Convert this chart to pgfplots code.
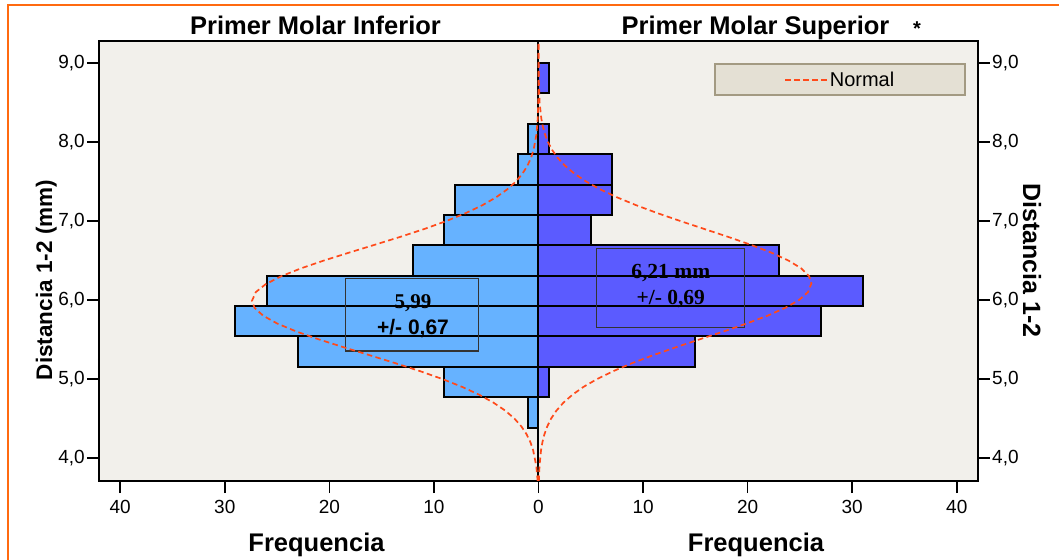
\documentclass[border=0pt]{standalone}
\usepackage{fontspec}
\setmainfont{Liberation Sans}
\newfontfamily\serifb{Liberation Serif}
\usepackage{pgfplots}
\pgfplotsset{compat=1.18}
\definecolor{plotbg}{HTML}{F2F0EB}
\definecolor{leftbar}{HTML}{66B2FF}
\definecolor{rightbar}{HTML}{5B5BFF}
\definecolor{curvered}{HTML}{FF4A1A}
\definecolor{legfill}{HTML}{E4E0D4}
\definecolor{legdraw}{HTML}{A39A82}
\definecolor{frameorange}{HTML}{FF6A10}
\begin{document}
\begin{tikzpicture}
\useasboundingbox (0bp,0bp) rectangle (1059bp,560bp);
\draw[frameorange, line width=2.5bp] (8bp,0bp) -- (8bp,555bp) -- (1059bp,555bp);
% right-hand y axis (ticks and labels only)
\begin{axis}[
  at={(99.3bp,79bp)}, anchor=south west,
  scale only axis, width=878.4bp, height=440bp,
  xmin=-42, xmax=42, ymin=3.709, ymax=9.278,
  axis x line=none, axis y line*=right,
  axis line style={line width=2bp, -},
  ytick={4,5,6,7,8,9},
  yticklabels={{4,0},{5,0},{6,0},{7,0},{8,0},{9,0}},
  tick align=outside, major tick length=12bp,
  tick style={line width=1.6bp, black},
  yticklabel style={font=\fontsize{19bp}{21bp}\selectfont, xshift=-1bp},
]
\end{axis}
\begin{axis}[
  at={(99.3bp,79bp)}, anchor=south west,
  scale only axis, width=878.4bp, height=440bp,
  xmin=-42, xmax=42, ymin=3.709, ymax=9.278,
  axis background/.style={fill=plotbg},
  axis line style={line width=2bp},
  xtick={-40,-30,-20,-10,0,10,20,30,40},
  xticklabels={40,30,20,10,0,10,20,30,40},
  ytick={4,5,6,7,8,9},
  yticklabels={{4,0},{5,0},{6,0},{7,0},{8,0},{9,0}},
  xtick pos=bottom, ytick pos=left,
  tick align=outside, major tick length=12bp,
  tick style={line width=1.6bp, black},
  ticklabel style={font=\fontsize{19bp}{21bp}\selectfont},
  xticklabel style={yshift=-4bp},
  yticklabel style={xshift=1bp},
  legend style={at={(0.7001,0.9493)}, anchor=north west, fill=legfill,
    draw=legdraw, line width=1.8bp, inner xsep=69bp, inner ysep=5.5bp,
    font=\fontsize{20bp}{22bp}\selectfont},
  legend image code/.code={\draw[#1] (0bp,0bp) -- (42bp,0bp);},
]
% left histogram (Primer Molar Inferior), bin edges 4 + k*5/13
\addplot[xbar interval, fill=leftbar, draw=black, line width=2bp, forget plot]
coordinates {
(-1,4.3846) (-9,4.7692) (-23,5.1538) (-29,5.5385) (-26,5.9231)
(-12,6.3077) (-9,6.6923) (-8,7.0769) (-2,7.4615) (-1,7.8462) (0,8.2308)
};
% right histogram (Primer Molar Superior)
\addplot[xbar interval, fill=rightbar, draw=black, line width=2bp, forget plot]
coordinates {
(1,4.7692) (15,5.1538) (27,5.5385) (31,5.9231) (23,6.3077)
(5,6.6923) (7,7.0769) (7,7.4615) (1,7.8462) (0,8.2308) (1,8.6154) (1,9.0)
};
% centre line
\addplot[black, line width=2bp, forget plot] coordinates {(0,3.709) (0,9.278)};
% annotation boxes
\draw[black!80, line width=1.1bp] (axis cs:-18.46,5.354) rectangle (axis cs:-5.71,6.275);
\draw[black!80, line width=1.1bp] (axis cs:5.55,5.654) rectangle (axis cs:19.70,6.654);
\node[anchor=base, font=\serifb\bfseries\fontsize{21bp}{24bp}\selectfont] at (axis cs:-12.0,5.895) {5,99};
\node[anchor=base, font=\bfseries\fontsize{21bp}{24bp}\selectfont] at (axis cs:-12.0,5.557) {+/- 0,67};
\node[anchor=base, font=\serifb\bfseries\fontsize{21.5bp}{24bp}\selectfont] at (axis cs:12.65,6.275) {6,21 mm};
\node[anchor=base, font=\serifb\bfseries\fontsize{21.5bp}{24bp}\selectfont] at (axis cs:12.65,5.937) {+/- 0,69};
% normal curves
\addplot[curvered, line width=1.7bp, dash pattern=on 5.5bp off 3.5bp, forget plot]
coordinates {
(-0.08,3.709) (-0.211,3.9) (-0.513,4.1) (-0.773,4.2) (-1.138,4.3) (-1.64,4.4)
(-2.31,4.5) (-3.18,4.6) (-4.30,4.7) (-5.66,4.8) (-7.30,4.9) (-9.20,5.0)
(-11.34,5.1) (-13.68,5.2) (-16.12,5.3) (-18.59,5.4) (-20.97,5.5) (-23.13,5.6)
(-24.95,5.7) (-26.32,5.8) (-27.15,5.9) (-27.40,5.99) (-27.03,6.1) (-26.09,6.2)
(-24.62,6.3) (-22.72,6.4) (-20.51,6.5) (-18.10,6.6) (-15.63,6.7) (-13.19,6.8)
(-10.89,6.9) (-8.80,7.0) (-6.95,7.1) (-5.36,7.2) (-4.05,7.3) (-2.99,7.4)
(-2.16,7.5) (-1.53,7.6) (-1.055,7.7) (-0.713,7.8) (-0.471,7.9) (-0.192,8.1)
(-0.072,8.3) (-0.014,8.6) (0,9.278)
};
\addplot[curvered, line width=1.7bp, dash pattern=on 5.5bp off 3.5bp]
coordinates {
(0.035,3.709) (0.096,3.9) (0.243,4.1) (0.375,4.2) (0.566,4.3) (0.837,4.4)
(1.21,4.5) (1.716,4.6) (2.38,4.7) (3.24,4.8) (4.30,4.9) (5.61,5.0)
(7.16,5.1) (8.94,5.2) (10.94,5.3) (13.10,5.4) (15.37,5.5) (17.66,5.6)
(19.86,5.7) (21.88,5.8) (23.59,5.9) (24.92,6.0) (25.77,6.1) (26.10,6.21)
(25.88,6.3) (25.13,6.4) (23.89,6.5) (22.25,6.6) (20.28,6.7) (18.11,6.8)
(15.83,6.9) (13.55,7.0) (11.36,7.1) (9.33,7.2) (7.50,7.3) (5.90,7.4)
(4.55,7.5) (3.43,7.6) (2.53,7.7) (1.83,7.8) (1.30,7.9) (0.902,8.0)
(0.613,8.1) (0.408,8.2) (0.266,8.3) (0.106,8.5) (0.023,8.8) (0,9.278)
};
\addlegendentry{Normal}
\end{axis}
% titles and labels
\node[anchor=base, font=\bfseries\fontsize{25.5bp}{28bp}\selectfont] at (315.5bp,525bp) {Primer Molar Inferior};
\node[anchor=base, font=\bfseries\fontsize{25.5bp}{28bp}\selectfont] at (755.5bp,525bp) {Primer Molar Superior};
\node[anchor=base, font=\bfseries\fontsize{20bp}{22bp}\selectfont] at (917bp,524bp) {*};
\node[anchor=base, font=\bfseries\fontsize{25.5bp}{28bp}\selectfont] at (316.5bp,9bp) {Frequencia};
\node[anchor=base, font=\bfseries\fontsize{25.5bp}{28bp}\selectfont] at (756bp,9bp) {Frequencia};
\node[anchor=base, rotate=90, font=\bfseries\fontsize{22.5bp}{24bp}\selectfont] at (52bp,280bp) {Distancia 1-2 (mm)};
\node[anchor=base, rotate=-90, font=\bfseries\fontsize{25bp}{28bp}\selectfont] at (1023bp,299.5bp) {Distancia 1-2};
\end{tikzpicture}
\end{document}
